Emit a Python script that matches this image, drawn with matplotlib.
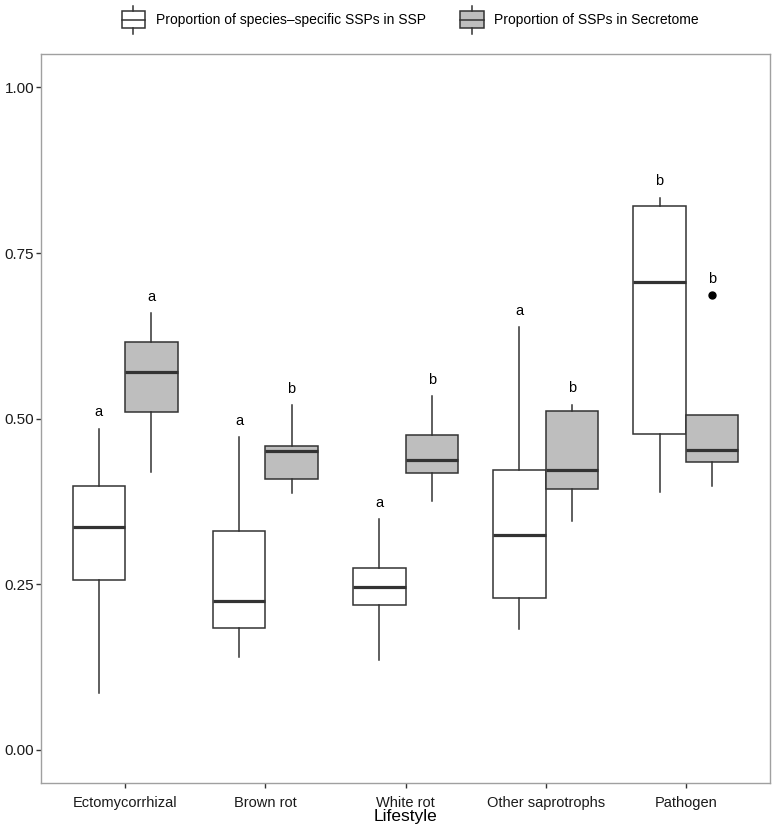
import numpy as np
import matplotlib
matplotlib.use("Agg")
import matplotlib.pyplot as plt
from matplotlib.legend_handler import HandlerBase
from matplotlib.patches import Rectangle
from matplotlib.lines import Line2D

plt.rcParams["font.family"] = ["Liberation Sans", "DejaVu Sans"]

# Data
lifestyles = ["Ectomycorrhizal", "Brown rot", "White rot", "Other saprotrophs", "Pathogen"]
series_names = ["Proportion of species\u2013specific SSPs in SSP",
                "Proportion of SSPs in Secretome"]

# lower whisker, Q1, median, Q3, upper whisker, outliers
ssp_low = [0.086, 0.140, 0.136, 0.182, 0.389]
ssp_q1 = [0.257, 0.184, 0.218, 0.230, 0.477]
ssp_med = [0.336, 0.224, 0.246, 0.325, 0.706]
ssp_q3 = [0.398, 0.331, 0.275, 0.422, 0.821]
ssp_high = [0.485, 0.472, 0.348, 0.638, 0.833]
ssp_out = [[], [], [], [], []]
ssp_letters = ["a", "a", "a", "a", "b"]

sec_low = [0.420, 0.388, 0.375, 0.346, 0.399]
sec_q1 = [0.510, 0.409, 0.418, 0.394, 0.434]
sec_med = [0.570, 0.451, 0.437, 0.4225, 0.452]
sec_q3 = [0.615, 0.458, 0.475, 0.512, 0.506]
sec_high = [0.659, 0.520, 0.534, 0.521, 0.506]
sec_out = [[], [], [], [], [0.686]]
sec_letters = ["a", "b", "b", "b", "b"]

y_ticks = [0.00, 0.25, 0.50, 0.75, 1.00]

edge = "#333333"
fills = ["white", "#bebebe"]


def make_stats(lo, q1, med, q3, hi, out):
    return [dict(whislo=a, q1=b, med=c, q3=d, whishi=e, fliers=f)
            for a, b, c, d, e, f in zip(lo, q1, med, q3, hi, out)]


fig = plt.figure(figsize=(7.73, 8.30), dpi=100)
ax = fig.add_axes([41 / 773, 47 / 830, 729 / 773, 728.7 / 830])

x = np.arange(1, len(lifestyles) + 1)
w = 0.375
groups = [
    (make_stats(ssp_low, ssp_q1, ssp_med, ssp_q3, ssp_high, ssp_out), ssp_letters,
     ssp_high, ssp_out, x - w / 2, fills[0]),
    (make_stats(sec_low, sec_q1, sec_med, sec_q3, sec_high, sec_out), sec_letters,
     sec_high, sec_out, x + w / 2, fills[1]),
]

for stats, letters, highs, outs, pos, fc in groups:
    ax.bxp(stats, positions=pos, widths=w, patch_artist=True, showcaps=False,
           boxprops=dict(facecolor=fc, edgecolor=edge, linewidth=1.1),
           medianprops=dict(color=edge, linewidth=2.3, solid_capstyle="butt"),
           whiskerprops=dict(color=edge, linewidth=1.1),
           flierprops=dict(marker="o", markerfacecolor="black",
                           markeredgecolor="black", markersize=5))
    for p, letter, hi, out in zip(pos, letters, highs, outs):
        top = max([hi] + out)
        ax.text(p, top + 0.025, letter, ha="center", va="center", fontsize=10.5)

ax.set_xlim(0.4, 5.6)
ax.set_ylim(-0.05, 1.05)
ax.set_xticks(x)
ax.set_xticklabels(lifestyles)
ax.set_yticks(y_ticks)
ax.set_yticklabels([f"{v:.2f}" for v in y_ticks])
ax.tick_params(length=3.5, width=1, color=edge, labelcolor="#1a1a1a")
ax.tick_params(axis="x", labelsize=10.5, pad=6)
ax.tick_params(axis="y", labelsize=11, pad=1.5)
ax.set_xlabel("Lifestyle", fontsize=12.5, labelpad=-1)
for s in ax.spines.values():
    s.set_color("#a0a0a0")
    s.set_linewidth(1)


class BoxKey(HandlerBase):
    def create_artists(self, legend, orig, xdescent, ydescent, width, height,
                       fontsize, trans):
        x0, y0 = -xdescent, -ydescent
        cx = x0 + width / 2
        rect = Rectangle((x0 + 1, y0 + height * 0.2), width - 2, height * 0.6,
                         facecolor=orig.get_facecolor(), edgecolor=edge,
                         linewidth=1.1, transform=trans)
        whisk_lo = Line2D([cx, cx], [y0, y0 + height * 0.2], color=edge, lw=1.1, transform=trans)
        whisk_hi = Line2D([cx, cx], [y0 + height * 0.8, y0 + height], color=edge, lw=1.1, transform=trans)
        med = Line2D([x0 + 1, x0 + width - 1], [y0 + height / 2] * 2, color=edge, lw=1.1,
                     transform=trans)
        return [rect, whisk_lo, whisk_hi, med]


handles = [Rectangle((0, 0), 1, 1, facecolor=fc) for fc in fills]
fig.legend(handles, series_names, loc="upper center", bbox_to_anchor=(0.53, 1.003),
           ncol=2, frameon=False, fontsize=10, handler_map={Rectangle: BoxKey()},
           handlelength=1.9, handleheight=2.7, handletextpad=0.65, columnspacing=2.4,
           borderpad=0.1)

fig.savefig("out.png", dpi=100)
